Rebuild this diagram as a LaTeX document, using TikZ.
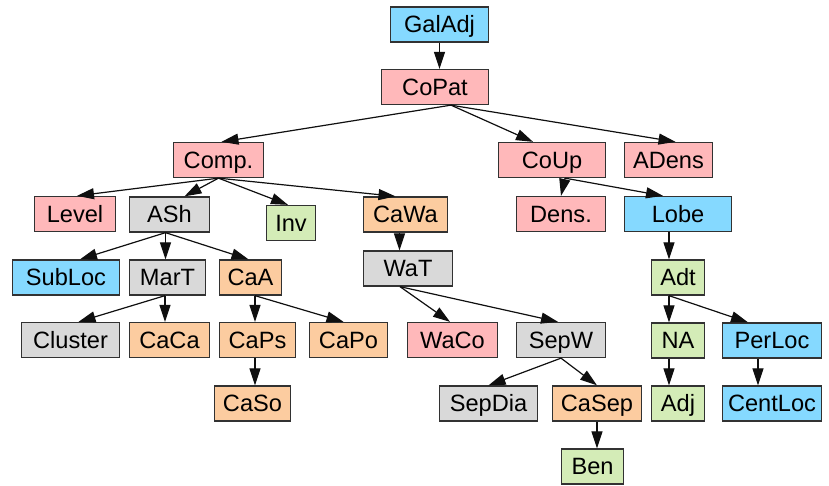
\documentclass[tikz,border=0pt]{standalone}
\usepackage{fontspec}
\setmainfont{Liberation Sans}
\usepackage{tikz}
\usetikzlibrary{arrows.meta}
\usepackage{xcolor}
\definecolor{boxblue}{RGB}{133, 217, 255}
\definecolor{boxpink}{RGB}{255, 184, 186}
\definecolor{boxgray}{RGB}{217, 217, 217}
\definecolor{boxpeach}{RGB}{252, 204, 160}
\definecolor{boxgreen}{RGB}{212, 236, 183}
\definecolor{boxline}{RGB}{50, 50, 50}
\definecolor{edgeblack}{RGB}{15, 15, 15}

\begin{document}
\begin{tikzpicture}[
  x=1pt, y=-1pt,
  box/.style={draw=boxline, line width=1.3pt, inner sep=0pt, minimum height=35pt,
    text height=16.2pt, text depth=0pt, font=\fontsize{23.6}{26}\selectfont},
  bluebox/.style={box, fill=boxblue},
  pinkbox/.style={box, fill=boxpink},
  graybox/.style={box, fill=boxgray},
  peachbox/.style={box, fill=boxpeach},
  greenbox/.style={box, fill=boxgreen},
  arr/.style={-{Triangle[length=17pt, width=11pt]}, line width=1.2pt, color=edgeblack}
]
  \useasboundingbox (0,0) rectangle (829,486);

  % top of the tree
  \node[bluebox, minimum width=98pt] (GalAdj) at (439.5,24.5) {GalAdj};
  \node[pinkbox, minimum width=107pt] (CoPat) at (435,87) {CoPat};
  \node[pinkbox, minimum width=90pt] (Comp) at (218.5,160) {Comp.};
  \node[pinkbox, minimum width=107pt] (CoUp) at (552,160) {CoUp};
  \node[pinkbox, minimum width=88pt] (ADens) at (668.5,160) {ADens};

  \node[pinkbox, minimum width=81pt] (Level) at (75,214) {Level};
  \node[graybox, minimum width=80pt] (ASh) at (169.5,214.5) {ASh};
  \node[greenbox, minimum width=49pt] (Inv) at (291,223) {Inv};
  \node[peachbox, minimum width=84pt] (CaWa) at (405.5,214.5) {CaWa};
  \node[pinkbox, minimum width=89pt] (Dens) at (561,214) {Dens.};
  \node[bluebox, minimum width=107pt] (Lobe) at (678,214) {Lobe};

  \node[bluebox, minimum width=107pt] (SubLoc) at (66,277.5) {SubLoc};
  \node[graybox, minimum width=76pt] (MarT) at (167.5,277.5) {MarT};
  \node[peachbox, minimum width=62pt] (CaA) at (250.5,277.5) {CaA};
  \node[graybox, minimum width=89pt] (WaT) at (408,268.5) {WaT};
  \node[greenbox, minimum width=53pt] (Adt) at (678,277.5) {Adt};

  \node[graybox, minimum width=98pt] (Cluster) at (70.5,340) {Cluster};
  \node[peachbox, minimum width=80pt] (CaCa) at (169.5,340) {CaCa};
  \node[peachbox, minimum width=76pt] (CaPs) at (257.5,340) {CaPs};
  \node[peachbox, minimum width=78pt] (CaPo) at (348.5,340) {CaPo};
  \node[pinkbox, minimum width=90pt] (WaCo) at (452.5,340) {WaCo};
  \node[graybox, minimum width=89pt] (SepW) at (561,340) {SepW};
  \node[greenbox, minimum width=53pt] (NA) at (678,340.5) {NA};
  \node[bluebox, minimum width=99pt] (PerLoc) at (772,340.5) {PerLoc};

  \node[peachbox, minimum width=76pt] (CaSo) at (252.5,403.5) {CaSo};
  \node[graybox, minimum width=98pt] (SepDia) at (488.5,403.5) {SepDia};
  \node[peachbox, minimum width=89pt] (CaSep) at (597,403.5) {CaSep};
  \node[greenbox, minimum width=53pt] (Adj) at (678,403.5) {Adj};
  \node[bluebox, minimum width=99pt] (CentLoc) at (772,403.5) {CentLoc};
  \node[greenbox, minimum width=62pt] (Ben) at (592.5,466.5) {Ben};

  % edges
  \draw[arr] (GalAdj.south) -- (GalAdj.south |- CoPat.north);
  \draw[arr] ([xshift=16pt]CoPat.south) -- ([xshift=3pt]Comp.north);
  \draw[arr] ([xshift=16pt]CoPat.south) -- ([xshift=-19pt]CoUp.north);
  \draw[arr] ([xshift=16pt]CoPat.south) -- ([xshift=7pt]ADens.north);

  \draw[arr] (Comp.south) -- ([xshift=2pt]Level.north);
  \draw[arr] (Comp.south) -- ([xshift=15pt]ASh.north);
  \draw[arr] (Comp.south) -- ([xshift=-3pt]Inv.north);
  \draw[arr] (Comp.south) -- ([xshift=-10pt]CaWa.north);
  \draw[arr] ([xshift=13pt]CoUp.south) -- (Dens.north);
  \draw[arr] ([xshift=13pt]CoUp.south) -- ([xshift=-15pt]Lobe.north);

  \draw[arr] ([xshift=-4pt]ASh.south) -- ([xshift=14pt]SubLoc.north);
  \draw[arr] ([xshift=-4pt]ASh.south) -- ([xshift=-4pt]ASh.south |- MarT.north);
  \draw[arr] ([xshift=-4pt]ASh.south) -- ([xshift=-2pt]CaA.north);
  \draw[arr] ([xshift=-6pt]CaWa.south) -- ([xshift=-6pt]CaWa.south |- WaT.north);
  \draw[arr] ([xshift=-9pt]Lobe.south) -- ([xshift=-9pt]Lobe.south |- Adt.north);

  \draw[arr] ([xshift=-2.5pt]MarT.south) -- ([xshift=8pt]Cluster.north);
  \draw[arr] ([xshift=-2.5pt]MarT.south) -- ([xshift=-2.5pt]MarT.south |- CaCa.north);
  \draw[arr] ([xshift=4.5pt]CaA.south) -- ([xshift=4.5pt]CaA.south |- CaPs.north);
  \draw[arr] ([xshift=4.5pt]CaA.south) -- ([xshift=-5pt]CaPo.north);
  \draw[arr] ([xshift=-8pt]WaT.south) -- ([xshift=-2.5pt]WaCo.north);
  \draw[arr] ([xshift=-8pt]WaT.south) -- ([xshift=-3pt]SepW.north);
  \draw[arr] ([xshift=-9pt]Adt.south) -- ([xshift=-9pt]Adt.south |- NA.north);
  \draw[arr] ([xshift=-9pt]Adt.south) -- ([xshift=-24pt]PerLoc.north);

  \draw[arr] ([xshift=-2.5pt]CaPs.south) -- ([xshift=-2.5pt]CaPs.south |- CaSo.north);
  \draw[arr] (SepW.south) -- (SepDia.north);
  \draw[arr] (SepW.south) -- (CaSep.north);
  \draw[arr] ([xshift=-9pt]NA.south) -- ([xshift=-9pt]NA.south |- Adj.north);
  \draw[arr] ([xshift=-14pt]PerLoc.south) -- ([xshift=-14pt]PerLoc.south |- CentLoc.north);
  \draw[arr] (CaSep.south) -- (CaSep.south |- Ben.north);
\end{tikzpicture}
\end{document}
